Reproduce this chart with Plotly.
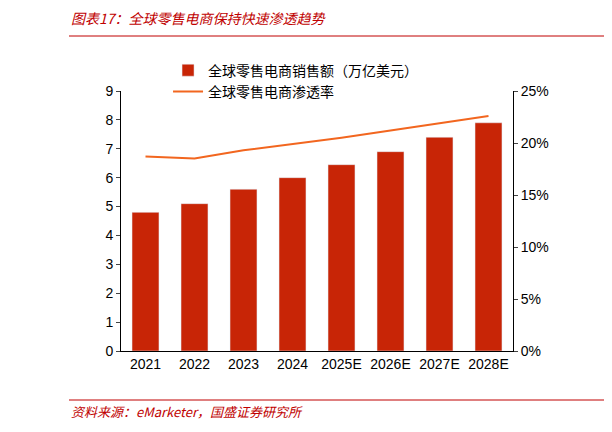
import plotly.graph_objects as go

years = ["2021","2022","2023","2024","2025E","2026E","2027E","2028E"]
sales = [4.8, 5.1, 5.6, 6.0, 6.45, 6.9, 7.4, 7.9]
pen = [0.187, 0.185, 0.193, 0.199, 0.205, 0.212, 0.219, 0.226]

red = "#C00000"
L, T, W, H = 113, 83, 392, 260
fig = go.Figure()
fig.add_trace(go.Bar(x=years, y=sales, name="全球零售电商销售额（万亿美元）",
                     marker_color="#C82506", width=0.55))
fig.add_trace(go.Scatter(x=years, y=pen, name="全球零售电商渗透率", yaxis="y2",
                         mode="lines", line=dict(color="#F2661F", width=2)))
font = "Noto Sans CJK SC"
fig.update_layout(
    width=612, height=432, margin=dict(l=L, r=612-L-W, t=T, b=432-T-H),
    plot_bgcolor="white", paper_bgcolor="white",
    font=dict(family=font, size=14, color="black"),
    showlegend=True,
    legend=dict(x=0.12, y=1.14, xanchor="left", yanchor="top", bgcolor="rgba(0,0,0,0)",
                font=dict(size=14)),
    xaxis=dict(showline=True, linecolor="black", ticks="", tickfont=dict(family="Liberation Sans")),
    yaxis=dict(range=[0, 9], dtick=1, showgrid=False, showline=True, linecolor="black",
               ticks="outside", ticklen=4, tickfont=dict(family="Liberation Sans")),
    yaxis2=dict(range=[0, 0.25], dtick=0.05, tickformat=".0%", overlaying="y", side="right",
                showgrid=False, showline=True, linecolor="black", ticks="outside", ticklen=4,
                tickfont=dict(family="Liberation Sans")),
)
x0 = (68-120)/W
fig.add_annotation(xref="paper", yref="paper", xanchor="left", yanchor="middle",
                   x=x0, y=1+(90-17)/H, text="<i>图表17：全球零售电商保持快速渗透趋势</i>",
                   showarrow=False, font=dict(size=14, color=red))
fig.add_annotation(xref="paper", yref="paper", xanchor="left", yanchor="middle",
                   x=x0, y=-(410-350)/H, text="<i>资料来源：eMarketer，国盛证券研究所</i>",
                   showarrow=False, font=dict(size=13, color=red))
fig.add_shape(type="line", xref="paper", yref="paper", x0=x0, x1=(605-120)/W,
              y0=1+(90-35)/H, y1=1+(90-35)/H, line=dict(color=red, width=1))
fig.add_shape(type="line", xref="paper", yref="paper", x0=x0, x1=(605-120)/W,
              y0=-(399-350)/H, y1=-(399-350)/H, line=dict(color=red, width=1))
fig.write_html("out.html")
